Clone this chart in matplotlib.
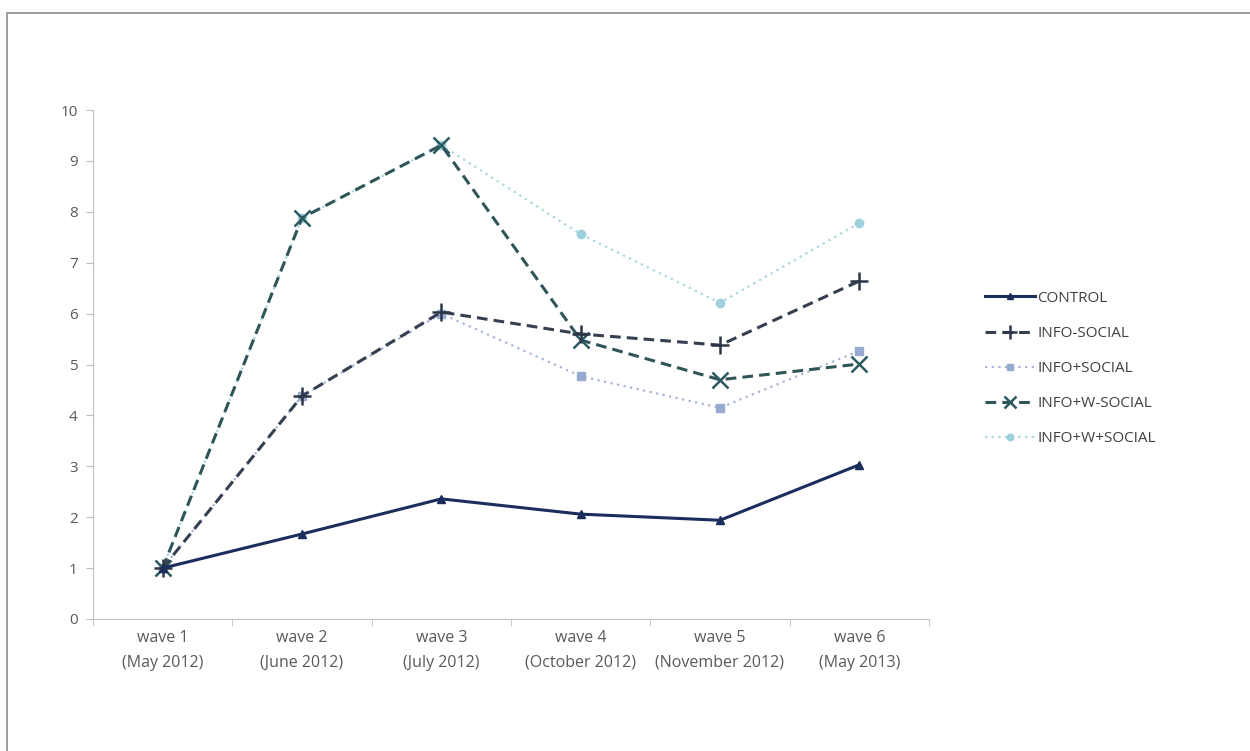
import matplotlib
matplotlib.use("Agg")
import matplotlib.pyplot as plt
from matplotlib.patches import Rectangle

waves = ["wave 1\n(May 2012)", "wave 2\n(June 2012)", "wave 3\n(July 2012)",
         "wave 4\n(October 2012)", "wave 5\n(November 2012)", "wave 6\n(May 2013)"]
control = [1.0, 1.67, 2.36, 2.06, 1.94, 3.03]
info_minus_social = [1.0, 4.38, 6.03, 5.60, 5.38, 6.64]
info_plus_social = [1.0, 4.38, 6.00, 4.77, 4.15, 5.27]
info_w_minus_social = [1.0, 7.88, 9.31, 5.48, 4.70, 5.01]
info_w_plus_social = [1.0, 7.88, 9.31, 7.56, 6.21, 7.78]

W, H = 1250, 751
fig = plt.figure(figsize=(W/100, H/100), dpi=100)
plt.rcParams['font.family'] = ['Open Sans', 'DejaVu Sans']

# outer frame
fig.patches.append(Rectangle((7/W, -0.1), 1.2, 1 - 13/H + 0.1, transform=fig.transFigure,
                             fill=False, edgecolor='#8c8c8c', linewidth=1.2))

ax = fig.add_axes([93/W, (H-619)/H, (929-93)/W, (619-110)/H])
x = list(range(len(waves)))

ax.plot(x, info_w_plus_social, linestyle=(0, (1, 2)), color='#a8d6e0', lw=1.6,
        marker='o', ms=6, mfc='#9fd0dc', mec='#9fd0dc', label='INFO+W+SOCIAL', zorder=2)
ax.plot(x, info_plus_social, linestyle=(0, (1, 2)), color='#a7b6d6', lw=1.6,
        marker='s', ms=6, mfc='#98aad0', mec='#98aad0', label='INFO+SOCIAL', zorder=2)
ax.plot(x, info_w_minus_social, linestyle=(0, (3.5, 2)), color='#2f5559', lw=2.2,
        marker='x', ms=11, mew=1.8, mec='#2b5a60', label='INFO+W-SOCIAL', zorder=3)
ax.plot(x, info_minus_social, linestyle=(0, (3.5, 2)), color='#34404f', lw=2.2,
        marker='+', ms=13, mew=1.8, mec='#2c3648', label='INFO-SOCIAL', zorder=3)
ax.plot(x, control, linestyle='-', color='#1b2d5c', lw=2.2,
        marker='^', ms=6, mfc='#1b2d5c', mec='#1b2d5c', label='CONTROL', zorder=4)

ax.set_xlim(-0.5, 5.5)
ax.set_ylim(0, 10)
ax.set_yticks(range(0, 11))
ax.set_xticks(x)
ax.set_xticklabels(waves, linespacing=1.7)
ax.set_xticks([i - 0.5 for i in range(7)], minor=True)
ax.tick_params(axis='x', which='major', length=0, pad=8, labelsize=11.5, colors='#595959')
ax.tick_params(axis='x', which='minor', length=5, color='#bfbfbf')
ax.tick_params(axis='y', length=5, color='#bfbfbf', labelsize=11, colors='#595959', pad=6)
for s in ['top', 'right']:
    ax.spines[s].set_visible(False)
for s in ['left', 'bottom']:
    ax.spines[s].set_color('#bfbfbf')

handles, labels = ax.get_legend_handles_labels()
order = [4, 3, 1, 2, 0]
leg = fig.legend([handles[i] for i in order], [labels[i] for i in order],
                 loc='upper left', bbox_to_anchor=(971/W, 1 - 277/H), frameon=False,
                 fontsize=11, labelspacing=1.32, handlelength=3.3, handletextpad=0.15,
                 markerscale=0.8)
for t in leg.get_texts():
    t.set_color('#404040')

fig.savefig("out.png", dpi=100)
